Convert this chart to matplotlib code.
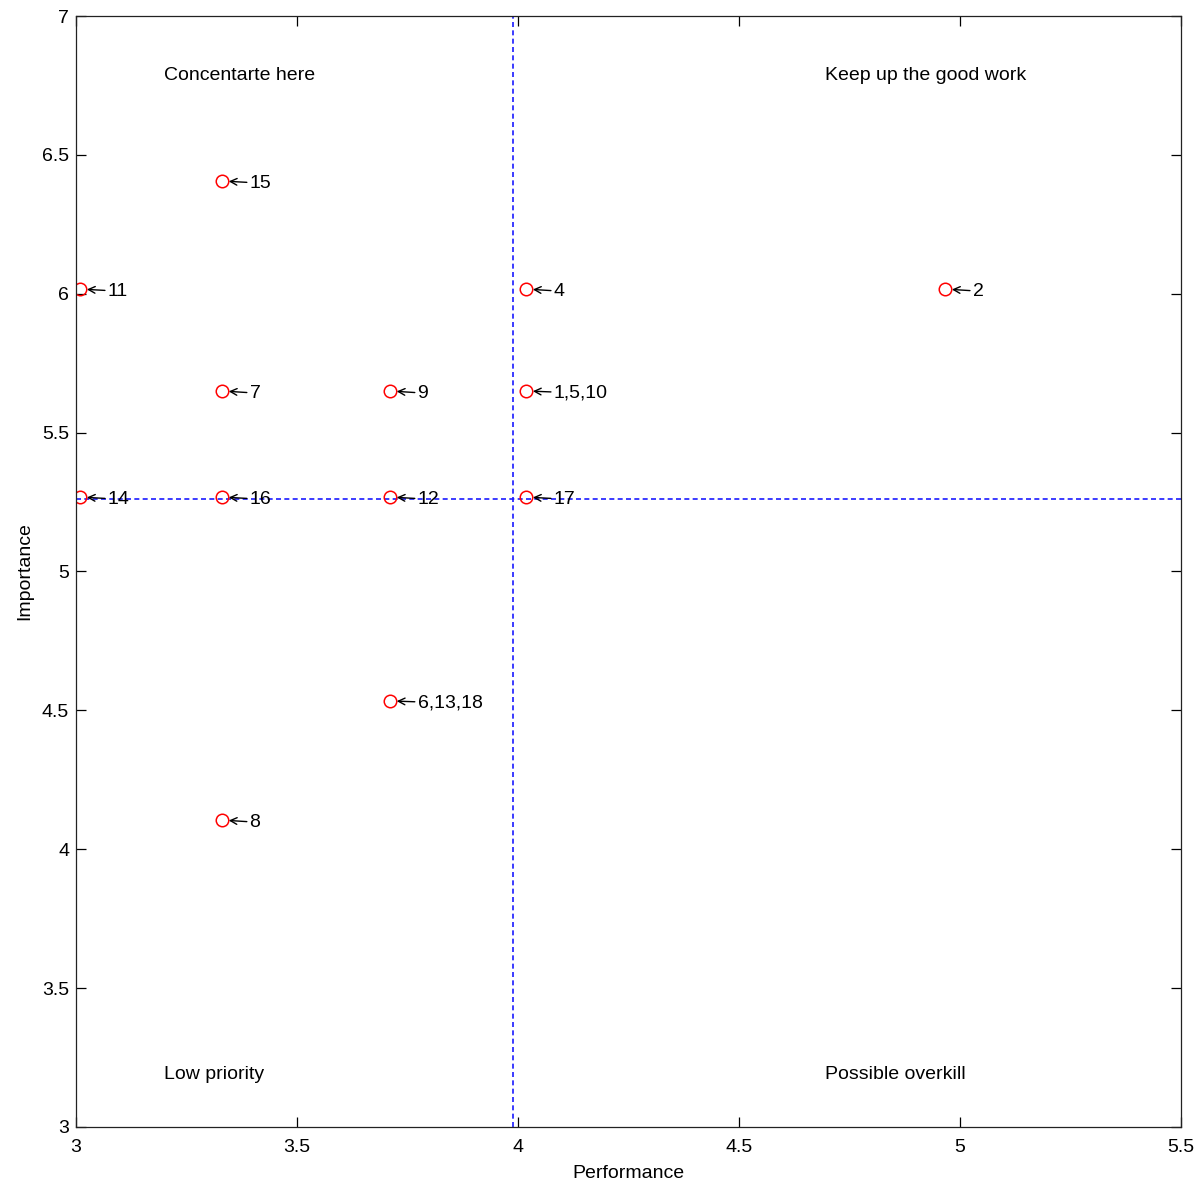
import matplotlib
matplotlib.use("Agg")
import matplotlib.pyplot as plt

plt.rcParams['font.family'] = ['Liberation Sans', 'DejaVu Sans']

# Item scores: performance (x) and importance (y), with item labels
performance = [4.018, 4.966, 4.018, 3.710, 3.330, 3.330, 3.710, 3.009,
               3.710, 3.009, 3.330, 3.330, 4.018]
importance = [5.650, 6.017, 6.017, 4.534, 5.650, 4.105, 5.650, 6.017,
              5.268, 5.268, 6.406, 5.268, 5.268]
labels = ['1,5,10', '2', '4', '6,13,18', '7', '8', '9', '11',
          '12', '14', '15', '16', '17']

# Quadrant dividers
perf_split = 3.989
imp_split = 5.261

quadrant_text = ['Concentarte here', 'Keep up the good work',
                 'Low priority', 'Possible overkill']
quadrant_x = [3.199, 4.695, 3.199, 4.695]
quadrant_y = [6.795, 6.795, 3.198, 3.198]

x_ticks = [3, 3.5, 4, 4.5, 5, 5.5]
y_ticks = [3, 3.5, 4, 4.5, 5, 5.5, 6, 6.5, 7]

fig = plt.figure(figsize=(12.04, 11.87), dpi=100)
ax = fig.add_axes([0.0631, 0.0506, 0.9178, 0.9359])

ax.axvline(perf_split, color='#1a1aff', linestyle=(0, (3, 2)), linewidth=1.2)
ax.axhline(imp_split, color='#1a1aff', linestyle=(0, (3, 2)), linewidth=1.2)

ax.plot(performance, importance, 'o', markerfacecolor='none',
        markeredgecolor='red', markersize=9, markeredgewidth=1.1)

# Point labels: a left arrow from the number back to its marker
for x, y, t in zip(performance, importance, labels):
    ax.annotate(t, xy=(x, y), xytext=(20, -1.5), textcoords='offset points',
                fontsize=14, ha='left', va='center',
                arrowprops=dict(arrowstyle='->', color='black', lw=1,
                                shrinkA=0, shrinkB=5,
                                mutation_scale=12))

for x, y, t in zip(quadrant_x, quadrant_y, quadrant_text):
    ax.annotate(t, xy=(x, y), xytext=(0, -2), textcoords='offset points',
                fontsize=14, ha='left', va='center')

ax.set_xlim(3, 5.5)
ax.set_ylim(3, 7)
ax.set_xticks(x_ticks)
ax.set_xticklabels(['3', '3.5', '4', '4.5', '5', '5.5'])
ax.set_yticks(y_ticks)
ax.set_yticklabels(['3', '3.5', '4', '4.5', '5', '5.5', '6', '6.5', '7'])
ax.tick_params(direction='in', top=True, right=True, length=7,
               labelsize=14, width=0.9)
ax.tick_params(axis='x', pad=9)
ax.tick_params(axis='y', pad=5)
for s in ax.spines.values():
    s.set_linewidth(0.9)
    s.set_color('#222222')
ax.set_xlabel('Performance', fontsize=14, labelpad=6)
ax.set_ylabel('Importance', fontsize=14, labelpad=6)

fig.savefig('out.png', dpi=100, facecolor='white')
